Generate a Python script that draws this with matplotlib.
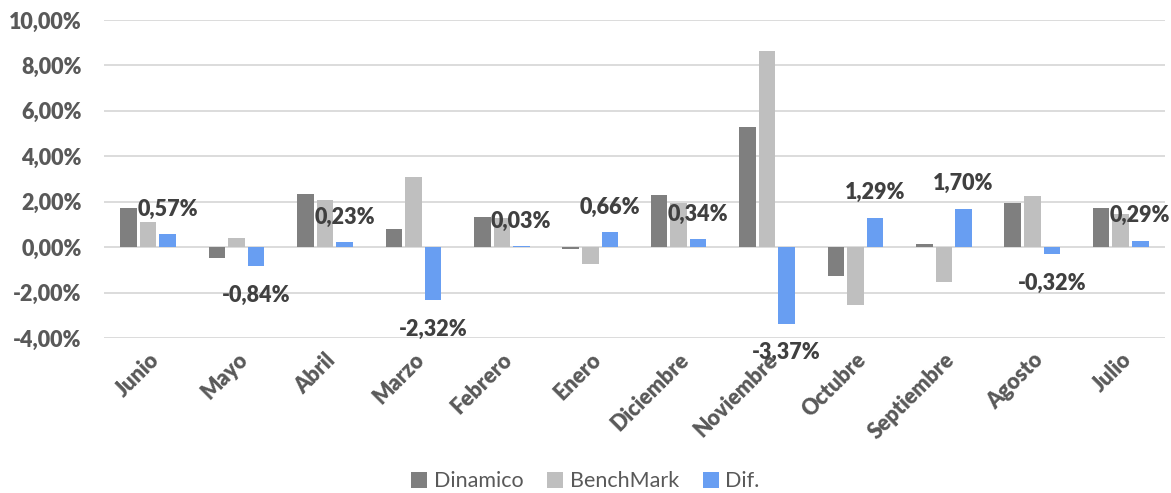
import matplotlib.pyplot as plt
import numpy as np

meses = ["Junio", "Mayo", "Abril", "Marzo", "Febrero", "Enero", "Diciembre",
         "Noviembre", "Octubre", "Septiembre", "Agosto", "Julio"]
dinamico = [1.73, -0.48, 2.33, 0.81, 1.31, -0.09, 2.30, 5.28, -1.27, 0.15, 1.93, 1.74]
benchmark = [1.11, 0.40, 2.07, 3.08, 1.28, -0.75, 1.95, 8.65, -2.56, -1.55, 2.25, 1.45]
dif = [0.57, -0.84, 0.23, -2.32, 0.03, 0.66, 0.34, -3.37, 1.29, 1.70, -0.32, 0.29]

plt.rcParams['font.family'] = ['Lato', 'DejaVu Sans']

fig = plt.figure(figsize=(11.71, 4.93), dpi=100)
ax = fig.add_axes([0.0888, 0.3144, 0.906, 0.645])

x = np.arange(len(meses))
w = 0.187
step = 0.221

ax.bar(x - step, dinamico, w, color='#7f7f7f', label='Dinamico', zorder=3)
ax.bar(x, benchmark, w, color='#bfbfbf', label='BenchMark', zorder=3)
ax.bar(x + step, dif, w, color='#689ef2', label='Dif.', zorder=3)

for xi, v in zip(x + step, dif):
    txt = f"{v:.2f}%".replace('.', ',')
    off = 18 if v >= 0 else -21
    ax.annotate(txt, (xi, v), xytext=(0, off), textcoords='offset points',
                ha='center', va='center', fontsize=15.5, fontweight='heavy',
                color='#404040', zorder=4)

ax.set_ylim(-4, 10)
ax.set_xlim(-0.5, len(meses) - 0.5)
ax.set_yticks(np.arange(-4, 11, 2))
ax.set_yticklabels([f"{t:.2f}%".replace('.', ',') for t in np.arange(-4, 11, 2)])
ax.set_xticks(x)
ax.set_xticklabels(meses, rotation=45, ha='right', rotation_mode='anchor')

ax.grid(axis='y', color='#d9d9d9', linewidth=1.3, zorder=0)
for s in ax.spines.values():
    s.set_visible(False)
ax.tick_params(axis='y', length=0, labelsize=15.5, colors='#595959', pad=16)
ax.tick_params(axis='x', length=0, labelsize=15.5, colors='#595959', pad=8)
for lab in ax.get_xticklabels() + ax.get_yticklabels():
    lab.set_fontweight('heavy')

fig.legend(loc='center', bbox_to_anchor=(0.5, 0.024), ncol=3, frameon=False,
           fontsize=15.5, labelcolor='#595959', handlelength=0.75, handleheight=0.75,
           handletextpad=0.3, columnspacing=1.1)

fig.savefig('out.png', dpi=100, facecolor='white')
